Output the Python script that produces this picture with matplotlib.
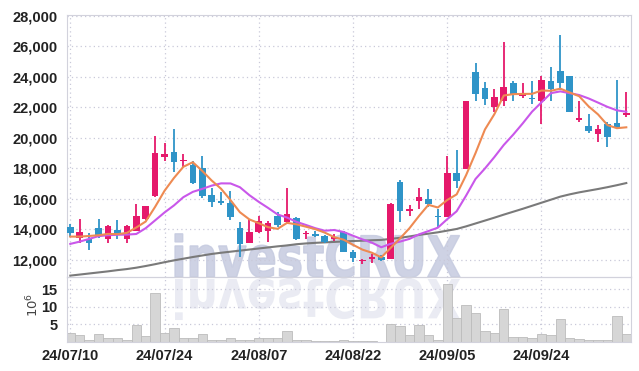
import matplotlib
matplotlib.use("Agg")
import matplotlib.pyplot as plt
from matplotlib import font_manager
from matplotlib.textpath import TextPath
from matplotlib.patches import PathPatch
from matplotlib.font_manager import FontProperties
from matplotlib.transforms import Affine2D, IdentityTransform
import numpy as np

# trading days shown on the chart
dates = ["24/07/10", "24/07/11", "24/07/12", "24/07/15", "24/07/16", "24/07/17", "24/07/18", "24/07/19",
         "24/07/22", "24/07/23", "24/07/24", "24/07/25", "24/07/26", "24/07/29", "24/07/30", "24/07/31",
         "24/08/01", "24/08/02", "24/08/05", "24/08/06", "24/08/07", "24/08/08", "24/08/09", "24/08/12",
         "24/08/13", "24/08/14", "24/08/16", "24/08/19", "24/08/20", "24/08/21", "24/08/22", "24/08/23",
         "24/08/26", "24/08/27", "24/08/28", "24/08/29", "24/08/30", "24/09/02", "24/09/03", "24/09/04",
         "24/09/05", "24/09/06", "24/09/09", "24/09/10", "24/09/11", "24/09/12", "24/09/13", "24/09/19",
         "24/09/20", "24/09/23", "24/09/24", "24/09/25", "24/09/26", "24/09/27", "24/09/30", "24/10/02",
         "24/10/04", "24/10/07", "24/10/08", "24/10/10"]

opens = [14130, 13470, 13400, 14100, 13400, 13970, 13400, 13920, 14670, 16200,
         18770, 19080, 18490, 18230, 18010, 16260, 15890, 15720, 14080, 13130,
         13860, 13920, 14890, 14510, 14730, 13700, 13700, 13570, 13360, 13860,
         12510, 11930, 12090, 12220, 12070, 17100, 15230, 15890, 15980, 14890,
         14800, 17690, 17990, 24310, 23260, 22010, 22450, 23590, 22770, 22620,
         22450, 23740, 24390, 24070, 21180, 20790, 20260, 20920, 20960, 21490]
closes = [13780, 13820, 13130, 13570, 14230, 13700, 14230, 14890, 15540, 19040,
          18970, 18430, 18560, 17030, 16200, 15820, 15720, 14840, 13050, 13860,
          14560, 14410, 14300, 15020, 13380, 13790, 13590, 13180, 13530, 12550,
          12110, 12000, 12170, 12000, 15670, 15230, 15360, 16130, 15670, 14800,
          17690, 17200, 22430, 22900, 22540, 22710, 23320, 22890, 22970, 22560,
          23800, 23230, 23590, 21720, 21330, 20480, 20590, 20090, 20700, 21620]
highs = [14360, 14670, 13750, 14690, 14300, 14620, 14300, 15650, 15540, 20130,
         19690, 20570, 18930, 18490, 18820, 16700, 16480, 16540, 14510, 14670,
         14890, 14580, 15170, 16700, 14840, 13920, 13900, 13620, 13700, 13920,
         12660, 12070, 12390, 12300, 15700, 17250, 15610, 16700, 16640, 15330,
         18840, 19210, 22450, 24900, 23690, 23190, 26320, 23760, 23630, 23760,
         24090, 24640, 26750, 24070, 22450, 21550, 20850, 21070, 23800, 23000]
lows = [13530, 13130, 12660, 13420, 13100, 13400, 13100, 13920, 14600, 16150,
        18510, 17790, 18120, 16980, 16050, 15490, 15610, 14620, 12220, 13100,
        13750, 13200, 14180, 14410, 13310, 13380, 13480, 13130, 13250, 12550,
        11890, 11740, 11780, 11950, 12050, 14510, 14890, 15320, 15490, 14180,
        14800, 16700, 17990, 22450, 22160, 21720, 22100, 22450, 22600, 22230,
        20920, 22450, 23150, 21720, 21070, 20350, 19720, 19430, 20640, 21360]

# volume, millions of shares
volume = [2.7, 2.1, 0.7, 2.4, 1.25, 1.25, 0.7, 4.9, 1.8, 14.0,
          2.7, 4.1, 1.0, 1.0, 2.4, 0.5, 0.5, 1.0, 0.7, 0.7,
          1.0, 1.25, 1.25, 3.0, 0.7, 0.5, 0.15, 0.2, 0.2, 0.5,
          0.2, 0.2, 0.15, 0.05, 5.0, 4.5, 1.9, 4.7, 1.9, 0.7,
          16.6, 6.9, 10.4, 8.3, 3.0, 2.5, 9.5, 1.3, 1.3, 1.0,
          2.2, 1.9, 6.6, 1.0, 0.8, 0.5, 0.5, 0.7, 7.3, 2.2]

ma5 = [13530, 13530, 13570, 13620, 13706, 13690, 13772, 14124, 14518, 15480,
       16534, 17374, 18108, 18406, 17838, 17208, 16666, 15922, 15126, 14658,
       14406, 14144, 14036, 14430, 14334, 14180, 14016, 13792, 13494, 13328,
       12992, 12674, 12472, 12166, 12790, 13414, 14086, 14878, 15612, 15438,
       15930, 16298, 17558, 19004, 20552, 21556, 22780, 22872, 22886, 22890,
       23108, 23090, 23230, 22980, 22734, 22070, 21542, 20842, 20638, 20696]
ma10 = [13050, 13200, 13380, 13560, 13620, 13650, 13660, 13700, 14080, 14593,
        15112, 15573, 16116, 16462, 16659, 16871, 17020, 17015, 16766, 16248,
        15807, 15405, 14979, 14778, 14496, 14293, 14080, 13914, 13962, 13831,
        13586, 13345, 13132, 12830, 13059, 13203, 13380, 13675, 13889, 14114,
        14672, 15192, 16218, 17308, 17995, 18743, 19539, 20215, 20945, 21721,
        22332, 22935, 23051, 22933, 22812, 22589, 22316, 22036, 21809, 21715]
ma60 = [10970, 11040, 11110, 11180, 11250, 11330, 11400, 11490, 11600, 11720,
        11850, 11970, 12080, 12190, 12290, 12390, 12470, 12540, 12610, 12680,
        12750, 12820, 12890, 12950, 13030, 13080, 13120, 13150, 13180, 13210,
        13240, 13260, 13290, 13310, 13380, 13450, 13540, 13640, 13720, 13810,
        13920, 14030, 14200, 14390, 14580, 14770, 14970, 15160, 15350, 15550,
        15750, 15950, 16150, 16300, 16430, 16540, 16650, 16770, 16900, 17040]

up_col = "#e5196b"
down_col = "#2f94c8"
grid_col = "#c9c9d9"

names = {f.name for f in font_manager.fontManager.ttflist}
tick_font = "Liberation Sans Narrow" if "Liberation Sans Narrow" in names else "Liberation Sans"

W, H = 639, 371
fig = plt.figure(figsize=(W / 100, H / 100), dpi=100)
fig.patch.set_facecolor("white")

L, R, T, B1, B2 = 67, 631, 15, 277, 342
ax = fig.add_axes([L / W, (H - B1) / H, (R - L) / W, (B1 - T) / H])
axv = fig.add_axes([L / W, (H - B2) / H, (R - L) / W, (B2 - B1) / H], sharex=ax)
for a in (ax, axv):
    a.set_facecolor("none")
    for s in a.spines.values():
        s.set_color("#d2d2dc")
        s.set_linewidth(0.8)
    a.tick_params(length=0, labelcolor="#222222")
    a.grid(True, color=grid_col, linestyle=(0, (1, 2.5)), linewidth=0.9)
    a.set_axisbelow(True)

# watermark with reflection, drawn behind both panels
prop = FontProperties(family="DejaVu Sans", weight="bold")
tp = TextPath((0, 0), "investCRUX", size=1, prop=prop)
ext = tp.get_extents()
cap = TextPath((0, 0), "C", size=1, prop=prop).get_extents().height
sx = 285 / ext.width
sy = 43 / cap
x0, base = 175, H - 277
wm = PathPatch(tp, transform=Affine2D().translate(-ext.x0, 0).scale(sx, sy).translate(x0, base) + IdentityTransform(),
               facecolor="#c6cbe0", edgecolor="#c6cbe0", linewidth=1.0, alpha=0.85, zorder=-2)
rf = PathPatch(tp, transform=Affine2D().translate(-ext.x0, 0).scale(sx, -sy * 0.95).translate(x0, base - 2) + IdentityTransform(),
               facecolor="#dcdfeb", edgecolor="none", alpha=0.6, zorder=-2)
fig.add_artist(wm)
fig.add_artist(rf)

x = np.arange(len(dates))
o = np.array(opens)
c = np.array(closes)
cols = [up_col if cc >= oo else down_col for oo, cc in zip(o, c)]
ax.vlines(x, lows, highs, colors=cols, linewidth=1.3, zorder=3)
body = np.maximum(np.abs(c - o), 70)
ax.bar(x, body, bottom=np.minimum(o, c), width=0.7, color=cols, zorder=4)

ax.plot(x, ma60, color="#7a7a7a", lw=1.5, zorder=2)
ax.plot(x, ma10, color="#c957ea", lw=1.5, zorder=5)
ax.plot(x, ma5, color="#ee8a52", lw=1.5, zorder=6)

ax.set_ylim(10880, 28060)
ax.set_yticks(range(12000, 28001, 2000))
ax.set_yticklabels([f"{v:,}" for v in range(12000, 28001, 2000)],
                   fontfamily=tick_font, fontweight="bold", fontsize=10.5)
ax.tick_params(axis="y", pad=7)
ax.tick_params(axis="x", labelbottom=False)

axv.bar(x, volume, width=1.0, color="#d6d6d6", edgecolor="#bcbcbc", linewidth=0.6, zorder=2)
axv.set_ylim(0, 18.5)
axv.set_yticks([5, 10, 15])
axv.set_yticklabels(["5", "10", "15"], fontfamily=tick_font, fontweight="bold", fontsize=10.5)
axv.tick_params(axis="y", pad=7)
axv.set_ylabel(r"$10^6$", fontsize=9.5, color="#444444")
axv.yaxis.set_label_coords((41 - L) / (R - L), (B2 - 305) / (B2 - B1))

axv.set_xlim(-0.35, 59.5)
ticks = list(range(0, len(dates), 10))
axv.set_xticks(ticks)
axv.set_xticklabels([dates[i] for i in ticks], fontfamily=tick_font, fontweight="bold", fontsize=10.5)
axv.tick_params(axis="x", pad=5)

fig.savefig("out.png", dpi=100)
